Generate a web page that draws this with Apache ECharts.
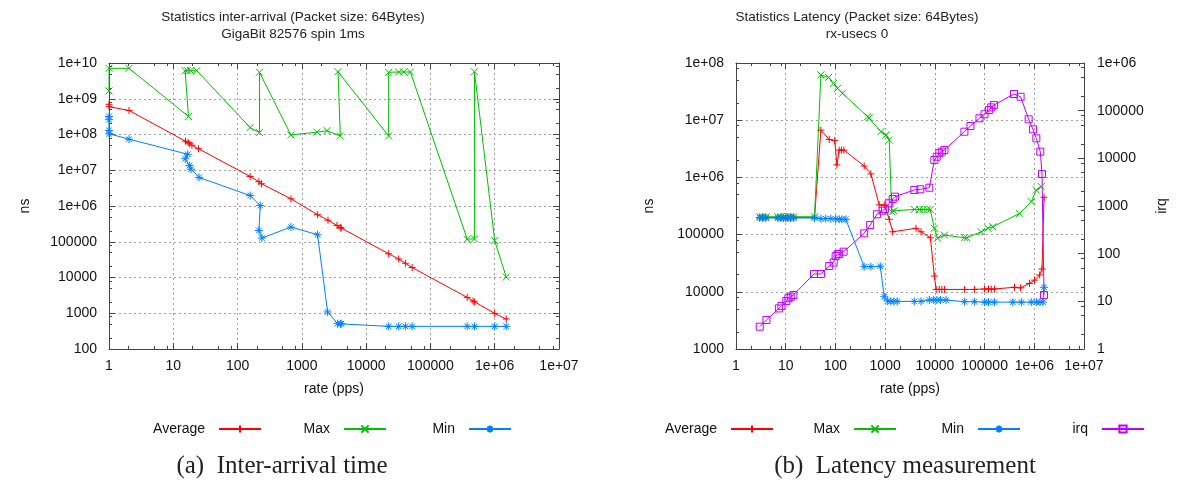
<!DOCTYPE html>
<html>
<head>
<meta charset="utf-8">
<script src="https://cdn.jsdelivr.net/npm/echarts@6/dist/echarts.min.js"></script>
<style>
  html, body { margin: 0; padding: 0; background: #fff; }
  #wrap { width: 1182px; height: 481px; display: flex; }
  #left, #right { width: 591px; height: 481px; }
</style>
</head>
<body>
<div id="wrap"><div id="left"></div><div id="right"></div></div>
<script>
// ---- (a) inter-arrival, [rate pps, ns] ----
const arrivalAverage = [
  [1, 7e8], [1, 6e8], [2.05, 4.7e8], [15.5, 6.5e7], [17, 6e7], [18, 5.5e7], [19.5, 5e7],
  [24.6, 4e7], [157, 6.7e6], [215, 4.8e6], [235, 4.2e6], [676, 1.59e6], [1757, 5.7e5],
  [2550, 4.0e5], [3520, 2.86e5], [3965, 2.5e5], [4100, 2.4e5], [22400, 4.6e4], [32100, 3.3e4],
  [40800, 2.5e4], [51900, 1.9e4], [373000, 2780], [460000, 2200], [484000, 2070],
  [1e6, 990], [1.51e6, 690]
];
const arrivalMax = [
  [1, 1.65e9], [1, 7.1e9], [2.05, 7.1e9], [17.2, 3.2e8], [15.3, 6.1e9], [16.6, 6.1e9],
  [18.7, 6.1e9], [23.2, 6.1e9], [157, 1.56e8], [219, 1.13e8], [219, 5.5e9], [676, 9.75e7],
  [1718, 1.16e8], [2460, 1.28e8], [3965, 9.1e7], [3650, 5.7e9], [22400, 9.1e7], [22400, 5.5e9],
  [32100, 5.6e9], [38400, 5.6e9], [48800, 5.6e9], [373000, 1.19e5], [484000, 1.2e5],
  [484000, 5.7e9], [1e6, 1.07e5], [1.51e6, 1.03e4]
];
const arrivalMin = [
  [1, 3.2e8], [1, 2.6e8], [1, 1.3e8], [1, 1.05e8], [2.05, 7.4e7], [16.8, 2.8e7], [15.3, 2.1e7],
  [17.8, 1.35e7], [18.9, 1.07e7], [25.2, 6.3e6], [157, 1.96e6], [225, 1.03e6], [215, 2.07e5],
  [239, 1.27e5], [676, 2.58e5], [1757, 1.57e5], [2512, 1090], [3600, 512], [3965, 505],
  [4100, 510], [22400, 430], [32100, 430], [40800, 430], [51900, 430], [373000, 430],
  [484000, 430], [1e6, 430], [1.51e6, 430]
];

// ---- (b) latency, [rate pps, ns] and irq count ----
const latencyAverage = [
  [3, 2e5], [3.4, 2e5], [4, 2e5], [7, 2e5], [8, 2e5], [9, 2e5], [10, 2e5], [11, 2e5], [12.5, 2e5],
  [14.5, 2e5], [38, 2e5], [51, 6.7e6], [75, 4.6e6], [97, 4.4e6], [107, 1.65e6], [119, 3e6],
  [132, 3e6], [148, 3e6], [379, 1.58e6], [517, 1.15e6], [760, 3.3e5], [959, 3.3e5], [1210, 1.85e5],
  [1417, 1.12e5], [4180, 1.29e5], [5270, 1.12e5], [8110, 8.8e4], [9770, 1.89e4], [10600, 1.1e4],
  [12300, 1.1e4], [13800, 1.1e4], [15700, 1.1e4], [39300, 1.1e4], [62500, 1.1e4], [1e5, 1.12e4],
  [1.2e5, 1.12e4], [1.36e5, 1.12e4], [1.58e5, 1.12e4], [4e5, 1.2e4], [5.3e5, 1.17e4],
  [8e5, 1.4e4], [1.01e6, 1.6e4], [1.28e6, 1.97e4], [1.43e6, 2.5e4], [1.57e6, 4.5e5]
];
const latencyMax = [
  [3, 2.05e5], [3.4, 2.05e5], [4, 2.05e5], [7, 2.05e5], [8, 2.05e5], [9, 2.05e5], [10, 2.05e5],
  [11, 2.05e5], [12.5, 2.05e5], [14.5, 2.05e5], [38, 2.05e5], [51, 6.2e7], [73, 5.6e7],
  [91, 4.4e7], [110, 3.6e7], [139, 2.95e7], [444, 1.15e7], [480, 1.1e7], [823, 6.3e6],
  [1038, 5.5e6], [1210, 4.5e6], [1353, 2.5e5], [1500, 2.6e5], [3860, 2.75e5], [4900, 2.75e5],
  [5800, 2.75e5], [7000, 2.75e5], [8100, 2.75e5], [9770, 1.29e5], [11400, 8.6e4], [15600, 9.8e4],
  [39300, 8.8e4], [44000, 8.8e4], [85000, 1.12e5], [1.17e5, 1.29e5], [1.47e5, 1.37e5],
  [5.06e5, 2.35e5], [8.7e5, 3.76e5], [1.1e6, 6e5], [1.38e6, 6.9e5]
];
const latencyMin = [
  [3, 1.95e5], [3.4, 1.95e5], [4, 1.95e5], [7, 1.95e5], [8, 1.95e5], [9, 1.95e5], [10, 1.95e5],
  [11, 1.95e5], [12.5, 1.95e5], [14.5, 1.95e5], [38, 1.95e5], [51, 1.9e5], [64, 1.9e5],
  [81, 1.9e5], [101, 1.88e5], [119, 1.85e5], [135, 1.85e5], [162, 1.85e5], [379, 2.75e4],
  [517, 2.75e4], [797, 2.8e4], [959, 8200], [1123, 6900], [1300, 6800], [1500, 6800],
  [1750, 6800], [3860, 6800], [5270, 6800], [7750, 7200], [9500, 7200], [11000, 7200],
  [13000, 7200], [16800, 7200], [39300, 6700], [62500, 6700], [1e5, 6600], [1.2e5, 6600],
  [1.58e5, 6600], [3.7e5, 6600], [5.5e5, 6600], [8.7e5, 6600], [1.1e6, 6600], [1.3e6, 6600],
  [1.5e6, 6600], [1.57e6, 1.2e4]
];
const latencyIrq = [
  [3, 2.94], [4.1, 4.07], [7.3, 7.1], [8.2, 8], [10.3, 10.2], [11.3, 11.6], [12.6, 12.5],
  [14.3, 13.6], [37, 37.5], [51, 37.5], [75, 55], [92, 65], [101, 89], [110, 97], [119, 99],
  [146, 110], [379, 267], [500, 400], [683, 670], [890, 800], [990, 865], [1210, 1140],
  [1417, 1400], [1577, 1570], [3860, 2170], [5100, 2240], [7750, 2420], [9770, 9200],
  [10900, 10800], [12300, 12800], [13800, 13800], [15600, 15000], [39300, 36200],
  [52000, 47600], [78900, 69200], [99600, 84000], [1.22e5, 1.03e5], [1.36e5, 1.17e5],
  [1.54e5, 1.31e5], [3.9e5, 2.24e5], [5.3e5, 1.96e5], [7.7e5, 65900], [9.4e5, 40600],
  [1.1e6, 26300], [1.32e6, 13800], [1.43e6, 4700], [1.57e6, 13.6]
];

const FONT = 'Liberation Sans';
const BORDER = '#444';
const C_AVG = '#ff0000', C_MAX = '#00c000', C_MIN = '#0080ff', C_IRQ = '#c000ff';
const PLUS = 'path://M0,5L10,5M5,0L5,10';
const CROSS = 'path://M0,0L10,10M10,0L0,10';
const STAR = 'path://M0,5L10,5M5,0L5,10M1.5,1.5L8.5,8.5M8.5,1.5L1.5,8.5';

function sci(v) {
  const p = Math.round(Math.log10(v));
  if (p >= 6) return '1e+' + (p < 10 ? '0' + p : p);
  return String(Math.pow(10, p));
}

// gnuplot-like minor ticks at 2, 5, 8 of every decade
function minorValues(min, max) {
  const out = [];
  for (let d = min; d < max; d *= 10) [2, 5, 8].forEach(m => out.push(m * d));
  return out;
}

function logAxis(position, min, max, extra) {
  return Object.assign({
    type: 'log', logBase: 10, min: min, max: max, position: position,
    splitNumber: Math.round(Math.log10(max / min)),
    axisLine: { show: true, onZero: false, lineStyle: { color: BORDER, width: 1 } },
    axisTick: { show: true, inside: true, length: 6, lineStyle: { color: BORDER } },
    axisLabel: { show: false },
    splitLine: { show: false }
  }, extra || {});
}

function minorAxis(position, min, max) {
  return {
    type: 'log', logBase: 10, min: min, max: max, position: position,
    axisLine: { show: false },
    axisTick: { show: true, inside: true, length: 3, lineStyle: { color: BORDER },
      customValues: minorValues(min, max) },
    axisLabel: { show: false },
    splitLine: { show: false }
  };
}

const labelStyle = { color: '#111', fontFamily: FONT, fontSize: 14, formatter: sci };
const gridLine = { show: true, lineStyle: { color: '#a0a0a0', type: [2, 3], width: 1 } };
const nameStyle = { color: '#111', fontFamily: FONT, fontSize: 14 };

function lineSeries(name, data, color, symbol, size, yAxisIndex) {
  return {
    name: name, type: 'line', data: data, yAxisIndex: yAxisIndex || 0,
    symbol: symbol, symbolSize: size, showAllSymbol: true,
    lineStyle: { color: color, width: 1 },
    itemStyle: { color: 'none', borderColor: color, borderWidth: 1 },
    emphasis: { disabled: true }
  };
}

function legendItem(name, rightEdge) {
  return {
    data: [name], right: rightEdge, top: 422, padding: 0, align: 'right',
    itemWidth: 42, itemHeight: 9, selectedMode: false,
    textStyle: { color: '#111', fontFamily: FONT, fontSize: 14, padding: [0, 9, 0, 0] }
  };
}

function text(x, y, str, size, family) {
  return {
    type: 'text', x: x, y: y,
    style: { text: str, fill: '#222', fontSize: size, fontFamily: family || FONT,
      align: 'center', verticalAlign: 'middle' }
  };
}

// ---------- left chart ----------
const left = echarts.init(document.getElementById('left'), null, { renderer: 'canvas' });
left.setOption({
  animation: false,
  backgroundColor: '#fff',
  grid: { left: 109, right: 32, top: 63, bottom: 132 },
  graphic: [
    text(293, 17, 'Statistics inter-arrival (Packet size: 64Bytes)', 13.5),
    text(293, 34, 'GigaBit 82576 spin 1ms', 13.5),
    text(282, 466, '(a)  Inter-arrival time', 25, 'Liberation Serif')
  ],
  legend: [
    legendItem('Average', 591 - 262),
    legendItem('Max', 591 - 387),
    legendItem('Min', 591 - 512)
  ],
  xAxis: [
    logAxis('bottom', 1, 1e7, {
      axisLabel: Object.assign({ show: true, margin: 10 }, labelStyle),
      splitLine: gridLine,
      name: 'rate (pps)', nameLocation: 'middle', nameGap: 33, nameTextStyle: nameStyle
    }),
    logAxis('top', 1, 1e7),
    minorAxis('bottom', 1, 1e7),
    minorAxis('top', 1, 1e7)
  ],
  yAxis: [
    logAxis('left', 100, 1e10, {
      axisLabel: Object.assign({ show: true, margin: 12 }, labelStyle),
      splitLine: gridLine,
      name: 'ns', nameLocation: 'middle', nameGap: 77, nameRotate: 90, nameTextStyle: nameStyle
    }),
    logAxis('right', 100, 1e10),
    minorAxis('left', 100, 1e10),
    minorAxis('right', 100, 1e10)
  ],
  series: [
    lineSeries('Average', arrivalAverage, C_AVG, PLUS, 7),
    lineSeries('Max', arrivalMax, C_MAX, CROSS, 7),
    lineSeries('Min', arrivalMin, C_MIN, STAR, 8)
  ]
});

// ---------- right chart ----------
const right = echarts.init(document.getElementById('right'), null, { renderer: 'canvas' });
right.setOption({
  animation: false,
  backgroundColor: '#fff',
  grid: { left: 145, right: 98, top: 63, bottom: 132 },
  graphic: [
    text(266, 17, 'Statistics Latency (Packet size: 64Bytes)', 13.5),
    text(266, 34, 'rx-usecs 0', 13.5),
    text(314, 466, '(b)  Latency measurement', 25, 'Liberation Serif')
  ],
  legend: [
    legendItem('Average', 591 - 183),
    legendItem('Max', 591 - 306),
    legendItem('Min', 591 - 430),
    legendItem('irq', 591 - 554)
  ],
  xAxis: [
    logAxis('bottom', 1, 1e7, {
      axisLabel: Object.assign({ show: true, margin: 10 }, labelStyle),
      splitLine: gridLine,
      name: 'rate (pps)', nameLocation: 'middle', nameGap: 33, nameTextStyle: nameStyle
    }),
    logAxis('top', 1, 1e7),
    minorAxis('bottom', 1, 1e7),
    minorAxis('top', 1, 1e7)
  ],
  yAxis: [
    logAxis('left', 1000, 1e8, {
      axisLabel: Object.assign({ show: true, margin: 12 }, labelStyle),
      splitLine: gridLine,
      name: 'ns', nameLocation: 'middle', nameGap: 80, nameRotate: 90, nameTextStyle: nameStyle
    }),
    logAxis('right', 1, 1e6, {
      axisLabel: Object.assign({ show: true, margin: 13 }, labelStyle),
      name: 'irq', nameLocation: 'middle', nameGap: 71, nameRotate: 90, nameTextStyle: nameStyle
    }),
    minorAxis('left', 1000, 1e8),
    minorAxis('right', 1, 1e6)
  ],
  series: [
    lineSeries('Average', latencyAverage, C_AVG, PLUS, 7),
    lineSeries('Max', latencyMax, C_MAX, CROSS, 7),
    lineSeries('Min', latencyMin, C_MIN, STAR, 8),
    lineSeries('irq', latencyIrq, C_IRQ, 'rect', 7, 1)
  ]
});
</script>
</body>
</html>
